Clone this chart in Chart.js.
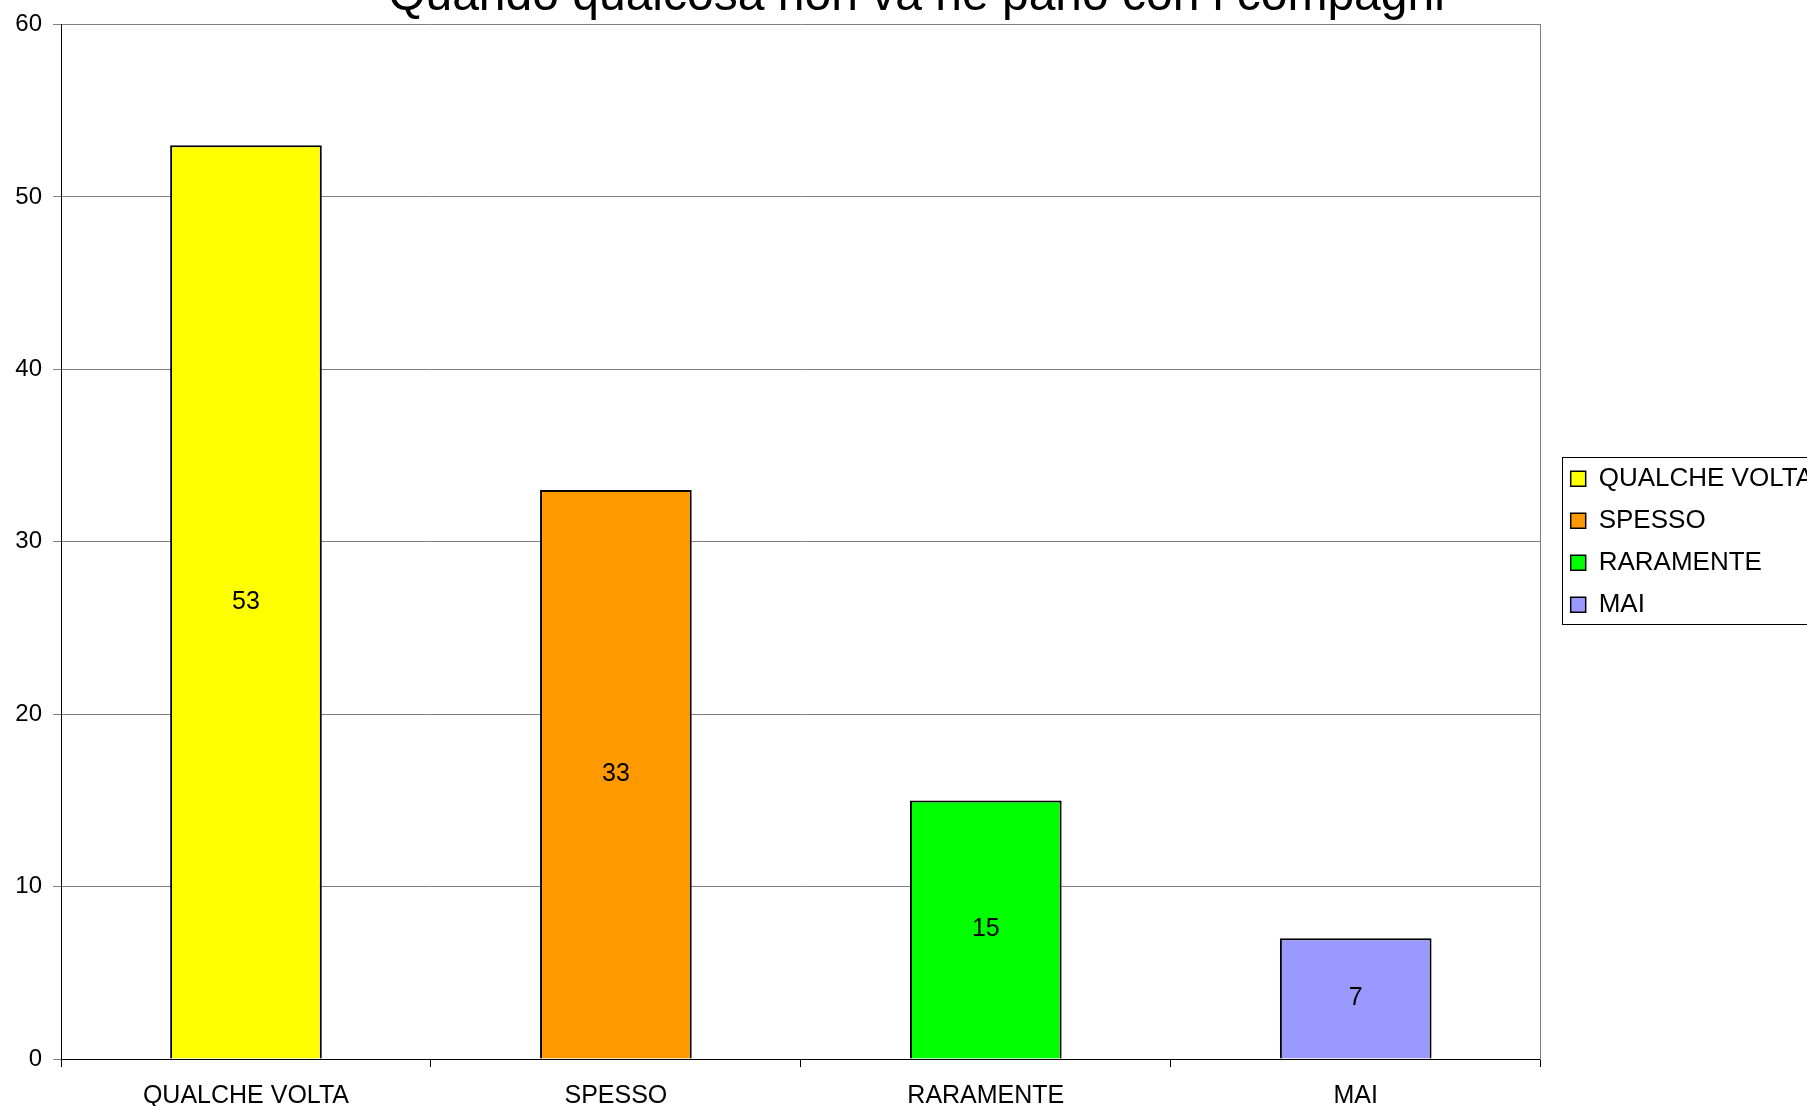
<!DOCTYPE html>
<html>
<head>
<meta charset="utf-8">
<script src="https://cdn.jsdelivr.net/npm/chart.js@4.4.0/dist/chart.umd.min.js"></script>
<style>
  html, body { margin: 0; padding: 0; overflow: hidden; background: #fff; width: 1807px; height: 1106px; }
  #wrap { position: absolute; left: 0; top: -33px; width: 1823px; height: 1158px; }
</style>
</head>
<body>
<div id="wrap"><canvas id="chart"></canvas></div>
<script>
const categories = ["QUALCHE VOLTA", "SPESSO", "RARAMENTE", "MAI"];
const values = [53, 33, 15, 7];
const barColors = ["#FFFF00", "#FF9900", "#00FF00", "#9999FF"];
const yTicks = [0, 10, 20, 30, 40, 50, 60];
const chartTitle = "Quando qualcosa non va ne parlo con i compagni";

Chart.defaults.font.family = "'Liberation Sans', Arial, sans-serif";
Chart.defaults.color = "#000";

// numbers in the middle of each bar
const valueLabels = {
  id: "valueLabels",
  afterDatasetsDraw(chart) {
    const { ctx } = chart;
    const meta = chart.getDatasetMeta(0);
    ctx.save();
    ctx.font = "25px 'Liberation Sans', Arial, sans-serif";
    ctx.fillStyle = "#000";
    ctx.textAlign = "center";
    ctx.textBaseline = "middle";
    meta.data.forEach((bar, i) => {
      ctx.fillText(String(values[i]), bar.x, (bar.y + bar.base) / 2);
    });
    ctx.restore();
  }
};

// frame round the legend
const legendFrame = {
  id: "legendFrame",
  afterDraw(chart) {
    const lg = chart.legend;
    const boxes = lg.legendHitBoxes;
    if (!boxes || !boxes.length) return;
    const last = boxes[boxes.length - 1];
    const ctx = chart.ctx;
    const top = Math.round(boxes[0].top - 9) + 0.5;
    const bottom = Math.round(last.top + last.height + 6) + 0.5;
    ctx.save();
    ctx.strokeStyle = "#000";
    ctx.lineWidth = 1;
    ctx.strokeRect(Math.round(lg.left + 7) + 0.5, top, lg.right - lg.left, bottom - top);
    ctx.restore();
  }
};

new Chart(document.getElementById("chart"), {
  type: "bar",
  data: {
    labels: categories,
    datasets: [{
      data: values,
      backgroundColor: barColors,
      borderColor: "#000",
      borderWidth: 2,
      categoryPercentage: 1,
      barPercentage: 0.41
    }]
  },
  options: {
    responsive: true,
    maintainAspectRatio: false,
    animation: false,
    layout: { padding: { left: 10, right: 0, top: 0, bottom: 0 } },
    scales: {
      x: {
        grid: { display: true, drawOnChartArea: false, drawTicks: true, tickLength: 8, offset: true, color: "#000" },
        border: { color: "#000", width: 1 },
        ticks: { font: { size: 25 }, padding: 14, color: "#000" }
      },
      y: {
        min: 0,
        max: 60,
        afterBuildTicks: (s) => { s.ticks = yTicks.map((v) => ({ value: v })); },
        afterFit(scale) { scale.width = 51; },
        ticks: { font: { size: 24 }, padding: 11, color: "#000" },
        grid: { color: "#808080", tickLength: 8 },
        border: { color: "#000", width: 1 }
      },
      yR: {
        position: "right",
        grid: { drawOnChartArea: false, drawTicks: false },
        ticks: { display: false },
        border: { display: true, color: "#808080", width: 1 },
        afterFit(scale) { scale.width = 14; }
      }
    },
    plugins: {
      title: {
        display: true,
        text: chartTitle,
        font: { size: 48, weight: "normal" },
        padding: { top: 1, bottom: -1 },
        color: "#000"
      },
      legend: {
        position: "right",
        fullSize: false,
        onClick: null,
        labels: {
          font: { size: 26 },
          boxWidth: 15,
          boxHeight: 15,
          padding: 16,
          color: "#000",
          generateLabels: () => categories.map((c, i) => ({
            text: c,
            fillStyle: barColors[i],
            strokeStyle: "#000",
            lineWidth: 1.5,
            index: i,
            hidden: false
          }))
        }
      },
      tooltip: { enabled: false }
    }
  },
  plugins: [valueLabels, legendFrame]
});
</script>
</body>
</html>
